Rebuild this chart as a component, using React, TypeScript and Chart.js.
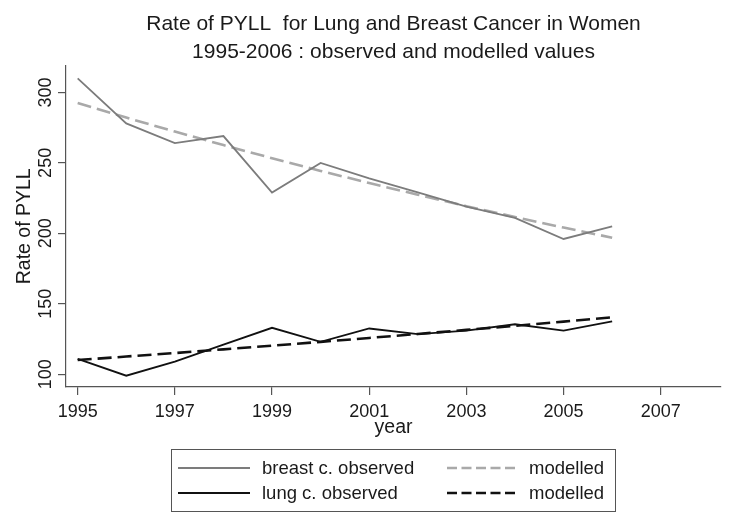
import React, { useEffect, useRef } from "react";
import { Chart, registerables } from "chart.js";

Chart.register(...registerables);

const YEARS = [1995, 1996, 1997, 1998, 1999, 2000, 2001, 2002, 2003, 2004, 2005, 2006];
const BREAST_OBSERVED = [310, 278, 264, 269, 229, 250, 239, 229, 219, 211, 196, 205];
const BREAST_MODELLED = [292.5, 282.1, 272.2, 262.6, 253.3, 244.3, 235.7, 227.4, 219.3, 211.6, 204.1, 196.9];
const LUNG_OBSERVED = [111, 99, 109, 121, 133, 123, 132.5, 128.5, 131, 135.5, 131, 137.5];
const LUNG_MODELLED = [110.1, 112.6, 115.1, 117.7, 120.3, 123.0, 125.8, 128.6, 131.5, 134.4, 137.4, 140.5];
const SERIES_LABELS = ["breast c. observed", "modelled", "lung c. observed", "modelled"];
const X_TICKS = [1995, 1997, 1999, 2001, 2003, 2005, 2007];
const Y_TICKS = [100, 150, 200, 250, 300];
const TITLE_LINES = ["Rate of PYLL  for Lung and Breast Cancer in Women", "1995-2006 : observed and modelled values"];
const X_TITLE = "year";
const Y_TITLE = "Rate of PYLL";

const FONT_FAMILY = "'Liberation Sans', Arial, Helvetica, sans-serif";
const TEXT_COLOR = "#1a1a1a";
const AXIS_COLOR = "#555555";

const gridLegend = {
  id: "gridLegend",
  afterDraw(chart: any) {
    const ctx = chart.ctx as CanvasRenderingContext2D;
    const box = { left: 171, top: 449, right: 615, bottom: 511 };
    const cols = [
      { x0: 178, x1: 250, tx: 262 },
      { x0: 447, x1: 518, tx: 529 },
    ];
    const rows = [468, 493];
    ctx.save();
    ctx.strokeStyle = AXIS_COLOR;
    ctx.lineWidth = 1;
    ctx.setLineDash([]);
    ctx.strokeRect(box.left + 0.5, box.top + 0.5, box.right - box.left, box.bottom - box.top);
    chart.data.datasets.forEach((ds: any, i: number) => {
      const c = cols[i % 2];
      const y = rows[Math.floor(i / 2)];
      ctx.beginPath();
      ctx.setLineDash(ds.borderDash && ds.borderDash.length ? [10, 4.5] : []);
      ctx.strokeStyle = ds.borderColor;
      ctx.lineWidth = ds.borderWidth;
      ctx.moveTo(c.x0, y);
      ctx.lineTo(c.x1, y);
      ctx.stroke();
      ctx.setLineDash([]);
      ctx.fillStyle = TEXT_COLOR;
      ctx.font = `18.5px ${FONT_FAMILY}`;
      ctx.textBaseline = "middle";
      ctx.textAlign = "left";
      ctx.fillText(ds.label, c.tx, y + 1);
    });
    ctx.restore();
  },
};

export default function App() {
  const canvasRef = useRef<HTMLCanvasElement | null>(null);

  useEffect(() => {
    if (!canvasRef.current) return;
    const toPoints = (vals: number[]) => YEARS.map((x, i) => ({ x, y: vals[i] }));
    const font = { family: FONT_FAMILY, size: 18, weight: "normal" as const };
    const titleFont = { family: FONT_FAMILY, size: 19.5, weight: "normal" as const };

    const chart = new Chart(canvasRef.current, {
      type: "line",
      data: {
        datasets: [
          {
            label: SERIES_LABELS[0],
            data: toPoints(BREAST_OBSERVED),
            borderColor: "#7c7c7c",
            borderWidth: 1.8,
            pointRadius: 0,
            tension: 0,
          },
          {
            label: SERIES_LABELS[1],
            data: toPoints(BREAST_MODELLED),
            borderColor: "#a9a9a9",
            borderWidth: 2.6,
            borderDash: [14, 6],
            pointRadius: 0,
            tension: 0,
          },
          {
            label: SERIES_LABELS[2],
            data: toPoints(LUNG_OBSERVED),
            borderColor: "#111111",
            borderWidth: 1.8,
            pointRadius: 0,
            tension: 0,
          },
          {
            label: SERIES_LABELS[3],
            data: toPoints(LUNG_MODELLED),
            borderColor: "#111111",
            borderWidth: 2.6,
            borderDash: [14, 6],
            pointRadius: 0,
            tension: 0,
          },
        ],
      },
      options: {
        animation: false,
        responsive: true,
        maintainAspectRatio: false,
        layout: { padding: { left: 0, right: 19, top: 0, bottom: 83 } },
        plugins: {
          legend: { display: false },
          tooltip: { enabled: false },
          title: {
            display: true,
            text: TITLE_LINES,
            fullSize: false,
            color: TEXT_COLOR,
            font: { family: FONT_FAMILY, size: 21, weight: "normal", lineHeight: 1.3 },
            padding: { top: 11, bottom: 0 },
          },
        },
        scales: {
          x: {
            type: "linear",
            min: 1994.76,
            max: 2008.24,
            afterBuildTicks: (s: any) => {
              s.ticks = X_TICKS.map((v) => ({ value: v }));
            },
            afterFit: (s: any) => {
              s.height = 60;
            },
            grid: { drawOnChartArea: false, drawTicks: true, tickLength: 8, color: AXIS_COLOR, lineWidth: 1.2 },
            border: { display: true, color: AXIS_COLOR, width: 1.2 },
            ticks: {
              color: TEXT_COLOR,
              font,
              padding: 6,
              maxRotation: 0,
              minRotation: 0,
              autoSkip: false,
              callback: (v: any) => String(v),
            },
            title: {
              display: true,
              text: X_TITLE,
              color: TEXT_COLOR,
              font: titleFont,
              padding: { top: 0, bottom: 8 },
            },
          },
          y: {
            type: "linear",
            min: 91,
            max: 319,
            afterBuildTicks: (s: any) => {
              s.ticks = Y_TICKS.map((v) => ({ value: v }));
            },
            afterFit: (s: any) => {
              s.width = 66;
            },
            grid: { drawOnChartArea: false, drawTicks: true, tickLength: 8, color: AXIS_COLOR, lineWidth: 1.2 },
            border: { display: true, color: AXIS_COLOR, width: 1.2 },
            ticks: {
              color: TEXT_COLOR,
              font,
              padding: -3,
              minRotation: 90,
              maxRotation: 90,
              crossAlign: "center",
              autoSkip: false,
              callback: (v: any) => String(v),
            },
            title: {
              display: true,
              text: Y_TITLE,
              color: TEXT_COLOR,
              font: titleFont,
              padding: { top: 13, bottom: 0 },
            },
          },
        },
      },
      plugins: [gridLegend],
    } as any);

    return () => chart.destroy();
  }, []);

  return (
    <div style={{ position: "absolute", left: 0, top: 0, width: 740, height: 530, background: "#ffffff" }}>
      <canvas ref={canvasRef} />
    </div>
  );
}
